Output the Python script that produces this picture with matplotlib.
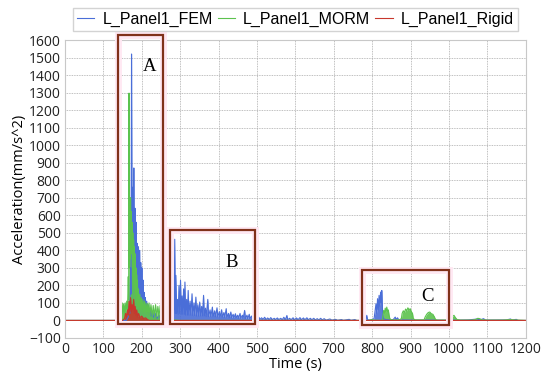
import matplotlib
matplotlib.use("Agg")
import matplotlib.pyplot as plt
from matplotlib.patches import Rectangle

# ---- data ----
fem_t = [0, 160, 165, 167, 169, 171, 172, 173.5, 175, 176.5, 178, 179.5, 181, 182.5, 184,
         185.5, 187, 188.5, 190, 191.5, 193, 194.5, 196, 197.5, 199, 200.5, 202, 203.5, 205,
         206.5, 208, 209.5, 211, 213, 215, 217, 219, 222, 225, 228, 231, 235, 240, 245, 250,
         255, 260, 265, 270, 274, 277, 279, 281, 283, 284.5, 286, 287.5, 289, 291, 293, 295,
         297, 299, 301, 303, 305, 307, 309, 311, 312.5, 314.5, 317, 319, 321, 323, 326, 328,
         331, 333, 336, 338, 341, 343, 346, 348, 351, 353, 356, 358, 361, 363, 366, 368, 372,
         374, 378, 380, 384, 386, 390, 392, 396, 398, 402, 404, 408, 410, 414, 416, 420, 422,
         426, 428, 432, 434, 438, 440, 444, 446, 450, 452, 456, 458, 462, 464, 468, 470, 474,
         476, 480, 482, 486, 488, 492, 494, 498, 500, 505, 508, 512, 516, 520, 524, 528, 532,
         536, 540, 545, 549, 553, 557, 562, 566, 570, 574, 578, 580, 585, 589, 594, 598, 603,
         607, 612, 616, 621, 625, 630, 634, 639, 643, 648, 652, 657, 661, 666, 670, 675, 680,
         690, 695, 705, 710, 720, 725, 740, 745, 755, 760, 780, 784, 786, 788, 795, 805, 808,
         810, 812, 814, 816, 818, 820, 822, 824, 825, 827, 829, 835, 845, 855, 860, 863, 866,
         869, 880, 900, 950, 1000, 1050, 1075, 1080, 1090, 1095, 1150, 1160, 1165, 1175, 1180,
         1200]
fem_v = [0, 0, 20, 80, 40, 300, 150, 1520, 400, 760, 350, 870, 300, 640, 250,
         560, 220, 440, 200, 420, 180, 400, 150, 330, 130, 300, 110, 230, 90,
         160, 70, 130, 60, 110, 45, 90, 35, 70, 25, 50, 18, 40, 12, 30, 10,
         20, 5, 15, 10, 60, 120, 250, 90, 270, 60, 463, 40, 257, 40, 120, 35,
         200, 40, 229, 35, 140, 35, 180, 35, 219, 30, 120, 30, 171, 30, 110, 30,
         152, 28, 100, 28, 133, 25, 90, 25, 105, 25, 80, 25, 143, 25, 70, 22, 120,
         22, 60, 22, 76, 20, 55, 20, 72, 20, 50, 18, 61, 18, 45, 18, 67, 18,
         40, 15, 48, 15, 35, 15, 38, 15, 30, 12, 40, 12, 30, 12, 57, 10, 30,
         10, 35, 10, 25, 10, 30, 8, 20, 8, 18, 6, 15, 6, 18, 5, 14, 5,
         16, 5, 12, 5, 14, 5, 12, 4, 18, 4, 28, 4, 12, 4, 15, 4, 14,
         4, 16, 4, 14, 4, 15, 4, 12, 4, 12, 3, 10, 3, 12, 3, 10, 2,
         8, 2, 6, 1, 5, 1, 6, 1, 5, 0, 0, 8, 29, 4, 2, 10, 60,
         95, 40, 124, 60, 143, 80, 162, 100, 171, 60, 10, 5, 3, 5, 19, 5, 15,
         3, 3, 2, 2, 1, 3, 8, 2, 10, 2, 3, 8, 2, 6, 0,
         0]

morm_t = [0, 140, 143, 145, 147, 149, 151, 153, 155, 157, 159, 161, 163, 165, 166, 167, 168,
          169, 170, 171, 172, 173, 174, 175, 176, 177, 178, 179, 180, 181, 182, 183, 184, 185,
          186, 187, 188, 189, 190, 191, 193, 195, 197, 199, 201, 203, 205, 207, 209, 211, 213,
          215, 217, 219, 221, 224, 227, 230, 233, 236, 239, 242, 245, 248, 251, 254, 257, 260,
          263, 266, 268, 270, 272, 275, 280, 290, 300, 780, 790, 800, 805, 826, 828, 830, 832,
          834, 836, 838, 840, 842, 844, 846, 850, 870, 876, 878, 881, 884, 887, 890, 893, 896,
          899, 902, 905, 907, 912, 935, 938, 942, 946, 950, 954, 958, 962, 965, 970, 1000, 1005,
          1009, 1013, 1017, 1021, 1030, 1060, 1070, 1075, 1080, 1085, 1100, 1140, 1160, 1170,
          1200]
morm_v = [0, 0, 40, 90, 30, 100, 40, 95, 30, 100, 40, 110, 60, 250, 120, 1297, 300,
          650, 350, 700, 400, 620, 380, 560, 300, 500, 250, 460, 200, 420, 180, 380, 150, 300,
          120, 260, 100, 230, 80, 180, 70, 150, 60, 130, 50, 120, 45, 110, 40, 100, 35,
          95, 30, 100, 30, 90, 25, 85, 25, 90, 20, 80, 20, 85, 15, 80, 15, 75,
          10, 80, 10, 60, 5, 20, 3, 2, 0, 0, 0, 5, 2, 0, 30, 57, 40,
          70, 45, 76, 50, 60, 30, 10, 3, 3, 10, 40, 55, 45, 65, 55, 72, 60,
          67, 50, 40, 10, 3, 3, 20, 35, 45, 48, 38, 35, 20, 5, 2, 2, 10,
          22, 29, 15, 5, 2, 2, 6, 12, 10, 4, 2, 2, 5, 3,
          0]

rigid_t = [0, 150, 155, 158, 160, 163, 165, 167, 169, 171, 173, 175, 177, 179, 181, 183, 185,
           187, 189, 192, 195, 200, 205, 210, 215, 220, 250, 255, 258, 262, 265, 1200]
rigid_v = [0, 0, 10, 40, 15, 60, 30, 110, 40, 130, 50, 90, 60, 120, 40, 80, 30,
           60, 20, 40, 15, 25, 10, 15, 5, 0, 0, 20, 5, 15, 0, 0]

# highlighted windows: (t_start, t_end, acc_low, acc_high), label
boxes = [(138, 255, -20, 1630), (273, 496, -20, 515), (773, 1000, -25, 285)]
box_labels = ["A", "B", "C"]
label_pos = [(221, 1447), (435, 333), (943, 137)]

series = [
    ("L_Panel1_FEM", fem_t, fem_v, "#4a6ed8"),
    ("L_Panel1_MORM", morm_t, morm_v, "#5cc24e"),
    ("L_Panel1_Rigid", rigid_t, rigid_v, "#c8372d"),
]

fig = plt.figure(figsize=(5.5, 3.81), dpi=100)
ax = fig.add_axes([0.118, 0.113, 0.838, 0.782])

for name, t, v, c in series:
    ax.fill_between(t, 0, v, color=c, alpha=0.9, linewidth=0)
    ax.plot(t, v, color=c, linewidth=0.8, label=name)

# boxes with a faint pink halo, as in the reference
for (x0, x1, y0, y1), lab, (lx, ly) in zip(boxes, box_labels, label_pos):
    ax.add_patch(Rectangle((x0, y0), x1 - x0, y1 - y0, fill=False,
                           edgecolor="#ffe9f3", linewidth=5, zorder=4, clip_on=False))
    ax.add_patch(Rectangle((x0, y0), x1 - x0, y1 - y0, fill=False,
                           edgecolor="#80311a", linewidth=1.6, zorder=5, clip_on=False))
    ax.text(lx, ly, lab, fontsize=13.5, family="Liberation Serif",
            ha="center", va="center", zorder=6)

ax.set_xlim(0, 1200)
ax.set_ylim(-100, 1600)
ax.set_xticks(range(0, 1201, 100))
ax.set_yticks(range(-100, 1601, 100))
ax.tick_params(labelsize=10, length=0, pad=3, colors="#222222")
for lbl in ax.get_xticklabels() + ax.get_yticklabels():
    lbl.set_family("Open Sans")
ax.grid(True, color="#aaaaaa", linestyle=(0, (1, 1)), linewidth=0.6)
ax.set_axisbelow(True)
for s in ax.spines.values():
    s.set_color("#c8c8c8")
    s.set_linewidth(0.8)

ax.set_xlabel("Time (s)", fontsize=10.5, family="Open Sans", labelpad=0)
ax.set_ylabel("Acceleration(mm/s^2)", fontsize=10.5, family="Open Sans", labelpad=1)

fig.legend(loc="center", bbox_to_anchor=(0.118, 0.916, 0.838, 0.066), ncol=3,
           frameon=True, fancybox=False, edgecolor="#c8c8c8",
           prop={"family": "Liberation Sans", "size": 11.5}, handlelength=1.1,
           handletextpad=0.5, columnspacing=1.6, borderpad=0.25, mode="expand")

fig.savefig("out.png", dpi=100)
